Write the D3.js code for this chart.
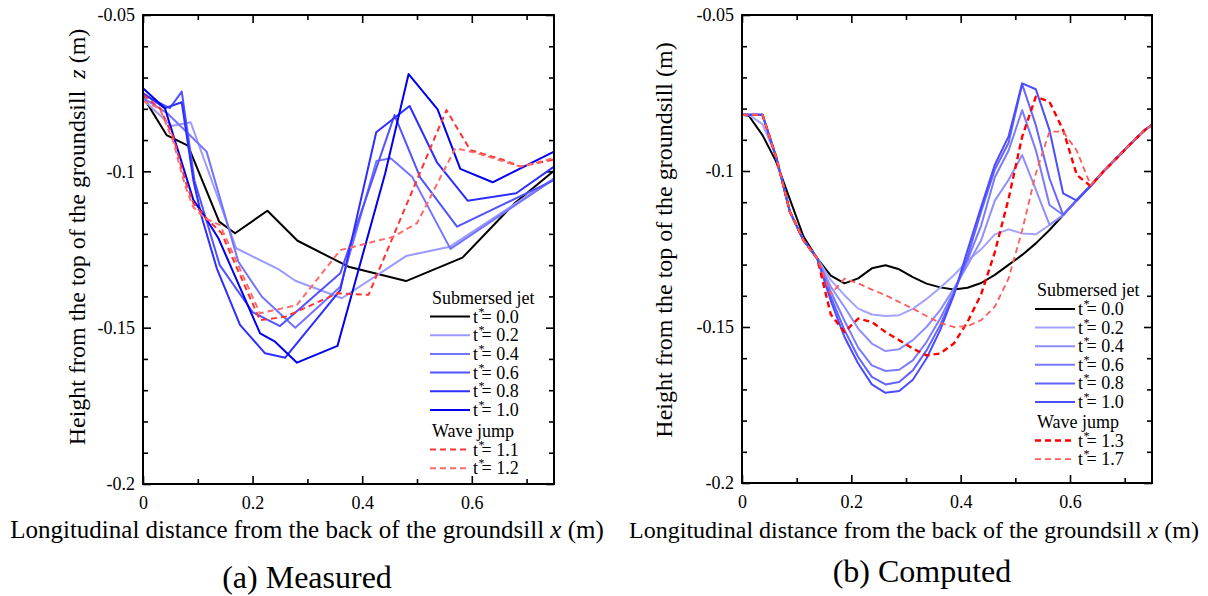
<!DOCTYPE html>
<html>
<head>
<meta charset="utf-8">
<script src="https://cdn.jsdelivr.net/npm/d3@7"></script>
<style>
body { margin: 0; background: #fff; }
</style>
</head>
<body>
<svg id="chart" width="1208" height="596"></svg>
<script>
//--------------------------------------------------------------
// DATA
//--------------------------------------------------------------
// axis ticks
var xTickValues = [0, 0.2, 0.4, 0.6];
var yTickValues = [-0.05, -0.1, -0.15, -0.2];

// (a) measured profiles, [x, z] pairs
var measuredT00 = [[0, -0.0761], [0.043, -0.0884], [0.082, -0.0918], [0.139, -0.1161], [0.168, -0.1198], [0.227, -0.1126], [0.282, -0.1222], [0.375, -0.1305], [0.48, -0.1351], [0.583, -0.1276], [0.677, -0.1104], [0.75, -0.0998]];
var measuredT02 = [[0, -0.077], [0.052, -0.0855], [0.087, -0.0843], [0.17, -0.1246], [0.247, -0.1313], [0.278, -0.135], [0.363, -0.1406], [0.48, -0.1271], [0.56, -0.1241], [0.75, -0.1022]];
var measuredT04 = [[0, -0.0765], [0.045, -0.0815], [0.08, -0.0875], [0.116, -0.0937], [0.174, -0.1289], [0.217, -0.1401], [0.278, -0.15], [0.36, -0.1369], [0.426, -0.0967], [0.452, -0.0958], [0.491, -0.1017], [0.561, -0.1248], [0.75, -0.1025]];
var measuredT06 = [[0, -0.0755], [0.049, -0.0798], [0.0707, -0.0745], [0.094, -0.103], [0.118, -0.117], [0.14, -0.13], [0.2, -0.145], [0.25, -0.1495], [0.36, -0.1326], [0.459, -0.082], [0.506, -0.102], [0.573, -0.1177], [0.75, -0.1028]];
var measuredT08 = [[0, -0.075], [0.04, -0.0798], [0.0707, -0.0779], [0.092, -0.103], [0.107, -0.1145], [0.1346, -0.131], [0.177, -0.1491], [0.2228, -0.1582], [0.2594, -0.1596], [0.2807, -0.155], [0.36, -0.138], [0.4256, -0.0875], [0.4865, -0.0791], [0.5364, -0.0971], [0.5924, -0.1094], [0.681, -0.107], [0.75, -0.0985]];
var measuredT10 = [[0, -0.0734], [0.04, -0.0798], [0.092, -0.1092], [0.113, -0.1145], [0.1376, -0.1214], [0.2137, -0.1518], [0.241, -0.1545], [0.281, -0.1612], [0.355, -0.1558], [0.442, -0.1006], [0.4847, -0.0689], [0.5376, -0.0802], [0.579, -0.0992], [0.638, -0.1035], [0.75, -0.0937]];
var measuredT11 = [[0, -0.0755], [0.031, -0.0798], [0.0553, -0.089], [0.0767, -0.1028], [0.092, -0.1102], [0.113, -0.1145], [0.1433, -0.1198], [0.2134, -0.1476], [0.26, -0.1465], [0.355, -0.139], [0.4115, -0.1395], [0.5537, -0.0804], [0.5973, -0.0932], [0.6581, -0.0964], [0.6886, -0.0985], [0.75, -0.0962]];
var measuredT12 = [[0, -0.0775], [0.031, -0.08], [0.0553, -0.0905], [0.0767, -0.1045], [0.092, -0.1115], [0.113, -0.115], [0.1406, -0.1172], [0.2134, -0.1454], [0.2805, -0.1428], [0.36, -0.1252], [0.457, -0.1209], [0.5, -0.1166], [0.57, -0.0926], [0.6095, -0.0942], [0.6886, -0.0985], [0.75, -0.0958]];
var measuredLabels = ["0.0", "0.2", "0.4", "0.6", "0.8", "1.0", "1.1", "1.2"];

// (b) computed profiles on the model grid
var computedX = [0, 0.0125, 0.0375, 0.0625, 0.0875, 0.1125, 0.1375, 0.1625, 0.1875, 0.2125, 0.2375, 0.2625, 0.2875, 0.3125, 0.3375, 0.3625, 0.3875, 0.4125, 0.4375, 0.4625, 0.4875, 0.5125, 0.5375, 0.5625, 0.5875, 0.6125, 0.6375, 0.6625, 0.6875, 0.7125, 0.7375, 0.75];
var computedT00 = [-0.082, -0.0823, -0.0885, -0.097, -0.109, -0.121, -0.128, -0.1335, -0.136, -0.1344, -0.1312, -0.1302, -0.1315, -0.134, -0.1361, -0.1373, -0.138, -0.1374, -0.1359, -0.1333, -0.1301, -0.1269, -0.1232, -0.1189, -0.1141, -0.1093, -0.1048, -0.0999, -0.0955, -0.091, -0.0868, -0.0852];
var computedT02 = [-0.082, -0.082, -0.085, -0.0955, -0.113, -0.1222, -0.128, -0.135, -0.1398, -0.1441, -0.146, -0.1465, -0.1462, -0.1442, -0.141, -0.1374, -0.1334, -0.1288, -0.1251, -0.1203, -0.1187, -0.12, -0.1203, -0.1173, -0.1141, -0.1093, -0.1048, -0.0999, -0.0955, -0.091, -0.0868, -0.0852];
var computedT04 = [-0.082, -0.082, -0.082, -0.0955, -0.113, -0.1222, -0.128, -0.1371, -0.1436, -0.1505, -0.1553, -0.1577, -0.1571, -0.1542, -0.15, -0.1446, -0.1377, -0.1302, -0.1222, -0.1095, -0.1029, -0.0949, -0.106, -0.1173, -0.1141, -0.1093, -0.1048, -0.0999, -0.0955, -0.091, -0.0868, -0.0852];
var computedT06 = [-0.082, -0.082, -0.082, -0.0955, -0.113, -0.1222, -0.128, -0.1387, -0.148, -0.1566, -0.1623, -0.1641, -0.1637, -0.1607, -0.1548, -0.1473, -0.1387, -0.1286, -0.1175, -0.102, -0.0935, -0.0805, -0.0933, -0.1109, -0.1141, -0.1093, -0.1048, -0.0999, -0.0955, -0.091, -0.0868, -0.0852];
var computedT08 = [-0.082, -0.082, -0.082, -0.0955, -0.113, -0.1222, -0.128, -0.1403, -0.151, -0.1596, -0.166, -0.1684, -0.1676, -0.1639, -0.1575, -0.1494, -0.1393, -0.1275, -0.113, -0.0995, -0.091, -0.0722, -0.0853, -0.1024, -0.1141, -0.1093, -0.1048, -0.0999, -0.0955, -0.091, -0.0868, -0.0852];
var computedT10 = [-0.082, -0.082, -0.082, -0.0955, -0.113, -0.1222, -0.128, -0.1416, -0.1532, -0.1617, -0.1684, -0.1711, -0.1705, -0.1669, -0.1601, -0.151, -0.1398, -0.1254, -0.1115, -0.098, -0.089, -0.0719, -0.0738, -0.0869, -0.1072, -0.1095, -0.1048, -0.0999, -0.0955, -0.091, -0.0868, -0.0852];
var computedT13 = [-0.082, -0.082, -0.082, -0.0955, -0.113, -0.1222, -0.128, -0.146, -0.1516, -0.1473, -0.1484, -0.1516, -0.1542, -0.1569, -0.1591, -0.1585, -0.1553, -0.1484, -0.1395, -0.126, -0.109, -0.089, -0.0762, -0.0778, -0.0869, -0.1013, -0.1048, -0.0999, -0.0955, -0.091, -0.0868, -0.0852];
var computedT17 = [-0.082, -0.082, -0.082, -0.0955, -0.113, -0.1222, -0.128, -0.1395, -0.1345, -0.136, -0.138, -0.1398, -0.142, -0.1441, -0.1465, -0.1487, -0.15, -0.1497, -0.1478, -0.1435, -0.1345, -0.119, -0.1008, -0.0874, -0.0874, -0.0935, -0.1045, -0.0999, -0.0955, -0.091, -0.0868, -0.0852];
var computedLabels = ["0.0", "0.2", "0.4", "0.6", "0.8", "1.0", "1.3", "1.7"];
//--------------------------------------------------------------

var serif = '"Liberation Serif", "Times New Roman", Times, serif';
var svg = d3.select("#chart");

// pair the computed values with the grid
function onGrid(values) {
   return values.map((v, i) => [computedX[i], v]);
};

// one panel: frame, ticks, lines, legend, labels
function drawPanel(p) {
   var x = d3.scaleLinear().domain([0, 0.75]).range([p.left, p.right]);
   var y = d3.scaleLinear().domain([-0.2, -0.05]).range([p.bottom, p.top]);
   var g = svg.append("g");

   var yMinor = d3.range(-0.2, -0.049, 0.01).filter(v => Math.abs(v * 20 - Math.round(v * 20)) > 0.01);
   var xMinor = [0.1, 0.3, 0.5, 0.7];

   function axis(a, pos, values, size, pad) {
      var ax = g.append("g").attr("transform", pos)
         .call(a.tickValues(values).tickSize(size).tickPadding(pad || 0)
            .tickFormat(pad ? (d => String(d)) : ""));
      ax.select(".domain").remove();
      ax.selectAll("line").attr("stroke", "#000").attr("stroke-width", 1.6);
      ax.selectAll("text").style("font-size", "18px");
      return ax;
   };

   axis(d3.axisLeft(y), `translate(${p.left},0)`, yTickValues, -8, 8);
   axis(d3.axisLeft(y), `translate(${p.left},0)`, yMinor, -5);
   axis(d3.axisRight(y), `translate(${p.right},0)`, yTickValues, -8);
   axis(d3.axisRight(y), `translate(${p.right},0)`, yMinor, -5);
   axis(d3.axisBottom(x), `translate(0,${p.bottom})`, xTickValues, -8, 12);
   axis(d3.axisBottom(x), `translate(0,${p.bottom})`, xMinor, -5);
   axis(d3.axisTop(x), `translate(0,${p.top})`, xTickValues, -8);
   axis(d3.axisTop(x), `translate(0,${p.top})`, xMinor, -5);

   var line = d3.line().x(d => x(d[0])).y(d => y(d[1]));

   g.selectAll("path.profile")
      .data(p.series)
      .enter()
      .append("path")
      .attr("class", "profile")
      .attr("d", s => line(s.data))
      .attr("fill", "none")
      .attr("stroke", s => s.color)
      .attr("stroke-width", s => s.width)
      .attr("stroke-dasharray", s => s.dash || null)
      .attr("stroke-linejoin", "round");

   g.append("rect")
      .attr("x", p.left).attr("y", p.top)
      .attr("width", p.right - p.left).attr("height", p.bottom - p.top)
      .attr("fill", "none").attr("stroke", "#000").attr("stroke-width", 2);

   // legend
   var lg = g.append("g").style("font-size", "18px");
   lg.append("text").attr("x", p.legend.x + 2).attr("y", p.legend.head1 + 6).text("Submersed jet");
   lg.append("text").attr("x", p.legend.x + 2).attr("y", p.legend.head2 + 6).text("Wave jump");
   p.series.forEach((s, i) => {
      var ly = i < 6 ? p.legend.row1 + i * p.legend.step : p.legend.row2 + (i - 6) * p.legend.step;
      lg.append("line")
         .attr("x1", p.legend.x).attr("x2", p.legend.x + 40)
         .attr("y1", ly).attr("y2", ly)
         .attr("stroke", s.color).attr("stroke-width", s.width)
         .attr("stroke-dasharray", s.dash || null);
      var t = lg.append("text").attr("x", p.legend.x + 43).attr("y", ly + 6);
      t.append("tspan").text("t");
      t.append("tspan").attr("dy", -7).attr("dx", 0.5).style("font-size", "12px").text("*");
      t.append("tspan").attr("dy", 7).attr("dx", -3).text("= " + p.labels[i]);
   });

   // y label
   var yl = g.append("text")
      .attr("transform", `translate(${p.yLabelX},${p.yLabelY}) rotate(-90)`)
      .attr("text-anchor", "middle")
      .style("font-size", "24px");
   yl.append("tspan").text(p.yLabel);
   if (p.yItalic) {
      yl.append("tspan").style("font-style", "italic").text("\u00a0z");
      yl.append("tspan").text(" (m)");
   }

   // x label
   var xl = g.append("text")
      .attr("x", p.xLabelX).attr("y", 538)
      .attr("text-anchor", "middle")
      .style("font-size", p.xLabelSize);
   xl.append("tspan").text("Longitudinal distance from the back of the groundsill ");
   xl.append("tspan").style("font-style", "italic").text("x");
   xl.append("tspan").text(" (m)");

   g.append("text")
      .attr("x", p.captionX).attr("y", p.captionY)
      .attr("text-anchor", "middle")
      .style("font-size", "32px")
      .text(p.caption);
};

var reds = {dash: "6,4"};

drawPanel({
   left: 143, right: 554, top: 15, bottom: 484,
   series: [
      {data: measuredT00, color: "#000000", width: 2},
      {data: measuredT02, color: "#9a9aff", width: 2},
      {data: measuredT04, color: "#7373ff", width: 2},
      {data: measuredT06, color: "#5252ff", width: 2},
      {data: measuredT08, color: "#2e2eff", width: 2},
      {data: measuredT10, color: "#0000ee", width: 2},
      {data: measuredT11, color: "#ff3333", width: 2, dash: reds.dash},
      {data: measuredT12, color: "#ff6a6a", width: 2, dash: reds.dash}
   ],
   labels: measuredLabels,
   legend: {x: 430, head1: 298, row1: 316.5, step: 18.7, head2: 431, row2: 449.5},
   yLabelX: 85, yLabelY: 237, yLabel: "Height from the top of the groundsill ", yItalic: true,
   xLabelX: 307, xLabelSize: "25px",
   caption: "(a) Measured", captionX: 307, captionY: 588
});

drawPanel({
   left: 742, right: 1152, top: 15, bottom: 483,
   series: [
      {data: onGrid(computedT00), color: "#000000", width: 2},
      {data: onGrid(computedT02), color: "#a3a3ff", width: 2},
      {data: onGrid(computedT04), color: "#8e8eff", width: 2},
      {data: onGrid(computedT06), color: "#7a7aff", width: 2},
      {data: onGrid(computedT08), color: "#6363ff", width: 2},
      {data: onGrid(computedT10), color: "#4b4bff", width: 2},
      {data: onGrid(computedT13), color: "#ff0000", width: 2.4, dash: reds.dash},
      {data: onGrid(computedT17), color: "#ff5c5c", width: 1.8, dash: reds.dash}
   ],
   labels: computedLabels,
   legend: {x: 1035, head1: 290, row1: 309, step: 18.6, head2: 422, row2: 440.5},
   yLabelX: 672, yLabelY: 240, yLabel: "Height from the top of the groundsill (m)", yItalic: false,
   xLabelX: 914, xLabelSize: "24px",
   caption: "(b) Computed", captionX: 922, captionY: 582
});

// serif everywhere, overriding the axis defaults
svg.selectAll("text").style("font-family", serif);
</script>
</body>
</html>
